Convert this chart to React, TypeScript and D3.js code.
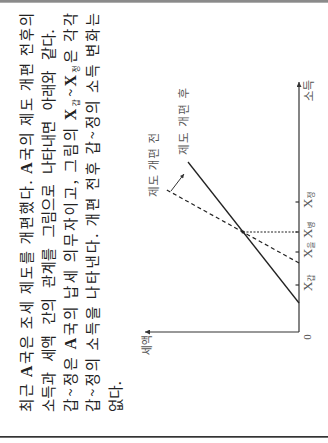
import React from "react";
import * as d3 from "d3";

const W = 328;
const H = 443;

// question text, one row per line (kind: k = hangul, a = latin capital, sub = subscript)
type Seg = [string, "k" | "a" | "sub"];
const textLines: Seg[][] = [
  [["최근 ", "k"], ["A", "a"], ["국은 조세 제도를 개편했다. ", "k"], ["A", "a"], ["국의 제도 개편 전후의", "k"]],
  [["소득과 세액 간의 관계를 그림으로 나타내면 아래와 같다.", "k"]],
  [["갑~정은 ", "k"], ["A", "a"], ["국의 납세 의무자이고, 그림의 ", "k"], ["X", "a"], ["갑", "sub"], ["~", "k"], ["X", "a"], ["정", "sub"], ["은 각각", "k"]],
  [["갑~정의 소득을 나타낸다. 개편 전후 갑~정의 소득 변화는", "k"]],
  [["없다.", "k"]],
];
// length each line is set to (0 = natural) and extra space between words
const lineLengths = [399, 0, 399, 399, 0];
const wordSpacing = [0, 7, 0, 0, 0];

// chart values
const payers = ["갑", "을", "병", "정"];
const payerIncome = [47, 80, 100, 130];
const incomeMax = 250;
const taxMax = 154;
const beforeReform = [
  { income: 69, tax: 0 },
  { income: 143, tax: 134 },
];
const afterReform = [
  { income: 29, tax: 0 },
  { income: 170, tax: 111 },
];
const crossing = { income: 100, tax: 56 };
const leader = [
  { income: 141, tax: 128 },
  { income: 158, tax: 115 },
];

const KR = "'Noto Sans CJK KR', 'Noto Sans', sans-serif";
const SERIF = "'Liberation Serif', 'DejaVu Serif', serif";

export default function App() {
  // unrotated page: u along 0..H, v along 0..W; drawn rotated -90deg
  const x = d3.scaleLinear().domain([0, incomeMax]).range([111, 361]);
  const y = d3.scaleLinear().domain([0, taxMax]).range([299, 145]);
  const line = d3
    .line<{ income: number; tax: number }>()
    .x((d) => x(d.income))
    .y((d) => y(d.tax));

  const axisColor = "#333";
  const labelColor = "#555";

  return (
    <svg
      width={W}
      height={H}
      viewBox={`0 0 ${W} ${H}`}
      style={{ position: "absolute", left: 0, top: 0, display: "block", background: "#fff" }}
    >
      <defs>
        <marker id="axisArrow" viewBox="0 0 10 10" refX="10" refY="5" markerWidth="6" markerHeight="5" orient="auto" markerUnits="userSpaceOnUse">
          <path d="M0,0 L10,5 L0,10 z" fill={axisColor} />
        </marker>
        <marker id="leadArrow" viewBox="0 0 10 10" refX="10" refY="5" markerWidth="5" markerHeight="4" orient="auto" markerUnits="userSpaceOnUse">
          <path d="M0,0 L10,5 L0,10 z" fill="#333" />
        </marker>
      </defs>

      {/* page borders */}
      <rect x={0} y={0} width={W} height={2.7} fill="#8a8a8a" />
      <rect x={0} y={436} width={W} height={1.7} fill="#333" />

      <g transform={`translate(0,${H}) rotate(-90)`}>
        {/* question text */}
        {textLines.map((segs, i) => (
          <text
            key={i}
            x={31}
            y={31.5 + i * 22.3}
            fontSize={14.5}
            fontFamily={KR}
            fill="#222"
            wordSpacing={wordSpacing[i] || undefined}
            textLength={lineLengths[i] || undefined}
            lengthAdjust="spacing"
          >
            {segs.map(([t, kind], j) => {
              if (kind === "a")
                return (
                  <tspan key={j} fontFamily={SERIF} fontWeight="bold" fontSize={16}>
                    {t}
                  </tspan>
                );
              if (kind === "sub")
                return (
                  <tspan key={j} fontSize={8} dy={3}>
                    {t}
                  </tspan>
                );
              const prevSub = j > 0 && segs[j - 1][1] === "sub";
              return (
                <tspan key={j} dy={prevSub ? -3 : undefined}>
                  {t}
                </tspan>
              );
            })}
          </text>
        ))}

        {/* axes */}
        <line x1={x(0)} y1={y(0)} x2={x(incomeMax)} y2={y(0)} stroke={axisColor} strokeWidth={1.2} markerEnd="url(#axisArrow)" />
        <line x1={x(0)} y1={y(0)} x2={x(0)} y2={y(taxMax)} stroke={axisColor} strokeWidth={1.2} markerEnd="url(#axisArrow)" />

        {/* ticks and labels */}
        {payers.map((p, i) => (
          <g key={p}>
            <line x1={x(payerIncome[i])} x2={x(payerIncome[i])} y1={y(0)} y2={y(0) - 3.5} stroke={axisColor} strokeWidth={1.2} />
            <text x={x(payerIncome[i]) + 2} y={y(0) + 13} textAnchor="middle" fill={labelColor}>
              <tspan fontFamily={SERIF} fontSize={13.5}>X</tspan>
              <tspan fontFamily={KR} fontSize={7.5} dy={2}>{p}</tspan>
            </text>
          </g>
        ))}
        <text x={x(0) - 5} y={y(0) + 12} textAnchor="middle" fontFamily={SERIF} fontSize={11} fill={labelColor}>
          0
        </text>
        <text x={x(incomeMax) + 2} y={y(0) + 14} textAnchor="end" fontFamily={KR} fontSize={11.5} fill={labelColor}>
          소득
        </text>
        <text x={x(0) - 3} y={y(taxMax) + 6} textAnchor="end" fontFamily={KR} fontSize={11} fill={labelColor}>
          세액
        </text>

        {/* lines */}
        <path d={line(beforeReform) || ""} fill="none" stroke="#222" strokeWidth={1.2} strokeDasharray="4,3" />
        <path d={line(afterReform) || ""} fill="none" stroke="#222" strokeWidth={1.3} />
        <line
          x1={x(crossing.income)}
          y1={y(crossing.tax)}
          x2={x(crossing.income)}
          y2={y(0)}
          stroke="#222"
          strokeWidth={1.1}
          strokeDasharray="2,1.5"
        />
        <circle cx={x(crossing.income)} cy={y(crossing.tax)} r={1.6} fill="#222" />

        {/* annotations */}
        <path d={line(leader) || ""} fill="none" stroke="#333" strokeWidth={1} markerEnd="url(#leadArrow)" />
        <text x={x(135)} y={y(141)} fontFamily={KR} fontSize={11.5} fill={labelColor} textLength={64} lengthAdjust="spacing">
          제도 개편 전
        </text>
        <text x={x(177)} y={y(111)} fontFamily={KR} fontSize={11.5} fill={labelColor} textLength={67} lengthAdjust="spacing">
          제도 개편 후
        </text>
      </g>
    </svg>
  );
}
